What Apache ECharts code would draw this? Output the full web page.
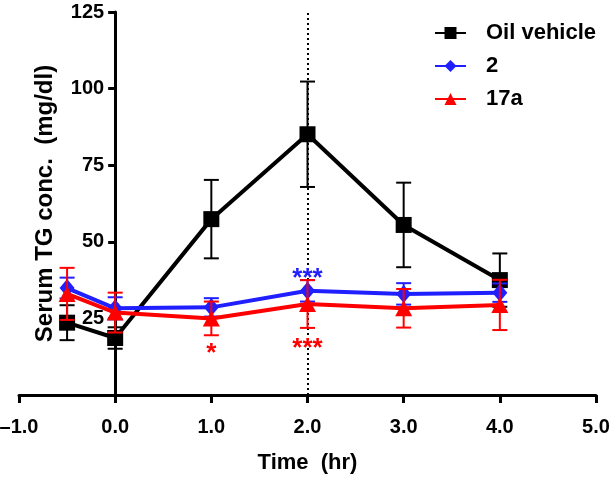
<!DOCTYPE html>
<html>
<head>
<meta charset="utf-8">
<script src="https://cdn.jsdelivr.net/npm/echarts@6/dist/echarts.min.js"></script>
<style>html,body{margin:0;padding:0;background:#fff}#c{width:612px;height:478px}</style>
</head>
<body>
<div id="c"></div>
<script>
// ---- data ----
const timeHr = [-0.5, 0, 1, 2, 3, 4];
const oilMean = [23.6, 18.6, 57.4, 85.1, 55.5, 37.5];
const oilErr = [5.7, 3.5, 12.8, 17.2, 13.8, 8.7];
const cpd2Mean = [34.9, 28.3, 28.6, 34.0, 33.0, 33.4];
const cpd2Err = [3.4, 3.6, 3.0, 3.5, 3.5, 3.0];
const cpd17aMean = [33.0, 26.9, 25.0, 29.7, 28.3, 29.4];
const cpd17aErr = [8.5, 6.5, 5.5, 7.8, 6.3, 8.2];
const seriesNames = ['Oil vehicle', '2', '17a'];
const xTicks = [-1, 0, 1, 2, 3, 4, 5];
const yTicks = [0, 25, 50, 75, 100, 125];
const markerTime = 2;
const cpd2Sig = [[2, 40.2, '***']];
const cpd17aSig = [[1, 15.7, '*'], [2, 17.4, '***']];

const FONT = '"Liberation Sans", Arial, sans-serif';
const BLACK = '#000000', BLUE = '#1f1fff', RED = '#ff0000';
const GRID_LEFT = 19, GRID_RIGHT = 16;
const PLOT_W = 612 - GRID_LEFT - GRID_RIGHT;
// y axis sits at time 0: shift from grid left by fraction of x range
const yAxisShift = PLOT_W * (0 - xTicks[0]) / (xTicks[xTicks.length - 1] - xTicks[0]);

function pts(mean) { return timeHr.map((t, i) => [t, mean[i]]); }
function errData(mean, err) { return timeHr.map((t, i) => [t, mean[i] - err[i], mean[i] + err[i]]); }
function errRender(color, lw) {
  return function (params, api) {
    const x = api.value(0), lo = api.value(1), hi = api.value(2);
    const a = api.coord([x, hi]), b = api.coord([x, lo]);
    const hw = 7.5;
    const st = { stroke: color, lineWidth: lw };
    return { type: 'group', children: [
      { type: 'line', shape: { x1: a[0], y1: a[1], x2: b[0], y2: b[1] }, style: st },
      { type: 'line', shape: { x1: a[0] - hw, y1: a[1], x2: a[0] + hw, y2: a[1] }, style: st },
      { type: 'line', shape: { x1: b[0] - hw, y1: b[1], x2: b[0] + hw, y2: b[1] }, style: st }
    ]};
  };
}
function sigSeries(d, color) {
  return {
    type: 'custom', z: 10, silent: true,
    data: d.map(v => [v[0], v[1], v[2]]),
    encode: { x: 0, y: 1 },
    renderItem: function (params, api) {
      const p = api.coord([api.value(0), api.value(1)]);
      return { type: 'text', x: p[0], y: p[1] + 7,
        style: { text: d[params.dataIndex][2], fill: color, font: 'bold 26px ' + FONT,
          align: 'center', verticalAlign: 'middle' } };
    }
  };
}

const chart = echarts.init(document.getElementById('c'), null, { renderer: 'canvas' });
chart.setOption({
  backgroundColor: '#ffffff',
  animation: false,
  grid: { left: GRID_LEFT, right: GRID_RIGHT, top: 12, bottom: 83, containLabel: false, outerBoundsMode: 'none' },
  legend: {
    data: seriesNames, orient: 'vertical', left: 434, top: 22, itemGap: 11, padding: 0,
    itemWidth: 31, itemHeight: 15, selectedMode: false,
    textStyle: { fontFamily: FONT, fontWeight: 'bold', fontSize: 22, color: '#000', padding: [0, 0, 0, 15] }
  },
  xAxis: {
    type: 'value', min: xTicks[0], max: xTicks[xTicks.length - 1], interval: 1,
    splitLine: { show: false },
    axisLine: { lineStyle: { color: '#000', width: 3 } },
    axisTick: { show: true, length: 8, lineStyle: { color: '#000', width: 3 } },
    axisLabel: { margin: 22, color: '#000', fontFamily: FONT, fontWeight: 'bold', fontSize: 20,
      formatter: v => (v < 0 ? '\u2013' : '') + Math.abs(v).toFixed(1) },
    name: 'Time  (hr)', nameLocation: 'middle', nameGap: 57,
    nameTextStyle: { fontFamily: FONT, fontWeight: 'bold', fontSize: 22, color: '#000' }
  },
  yAxis: {
    type: 'value', min: yTicks[0], max: yTicks[yTicks.length - 1], interval: 25,
    position: 'left', offset: -yAxisShift,
    splitLine: { show: false },
    axisLine: { onZero: false, lineStyle: { color: '#000', width: 3 } },
    axisTick: { show: true, length: 7, lineStyle: { color: '#000', width: 3 } },
    axisLabel: { margin: 11, color: '#000', fontFamily: FONT, fontWeight: 'bold', fontSize: 20,
      formatter: v => (v === 0 ? '' : String(v)) },
    name: 'Serum TG conc.  (mg/dl)', nameLocation: 'middle', nameGap: 58,
    nameTextStyle: { fontFamily: FONT, fontWeight: 'bold', fontSize: 24, color: '#000' }
  },
  series: [
    { type: 'custom', name: 'oilErr', renderItem: errRender(BLACK, 2), data: errData(oilMean, oilErr),
      encode: { x: 0, y: [1, 2] }, z: 2, silent: true,
      markLine: { silent: true, symbol: 'none', label: { show: false },
        lineStyle: { color: '#000', width: 2, type: [2, 3] }, data: [{ xAxis: markerTime }] } },
    { type: 'line', name: seriesNames[0], data: pts(oilMean), symbol: 'rect', symbolSize: 16,
      lineStyle: { color: BLACK, width: 4 }, itemStyle: { color: BLACK }, z: 3 },
    { type: 'custom', name: 'cpd2Err', renderItem: errRender(BLUE, 2), data: errData(cpd2Mean, cpd2Err),
      encode: { x: 0, y: [1, 2] }, z: 4, silent: true },
    { type: 'line', name: seriesNames[1], data: pts(cpd2Mean), symbol: 'diamond', symbolSize: [15, 18],
      lineStyle: { color: BLUE, width: 4 }, itemStyle: { color: BLUE }, z: 5 },
    { type: 'custom', name: 'cpd17aErr', renderItem: errRender(RED, 2), data: errData(cpd17aMean, cpd17aErr),
      encode: { x: 0, y: [1, 2] }, z: 6, silent: true },
    { type: 'line', name: seriesNames[2], data: pts(cpd17aMean), symbol: 'triangle', symbolSize: [17, 16],
      lineStyle: { color: RED, width: 4 }, itemStyle: { color: RED }, z: 7 },
    sigSeries(cpd2Sig, BLUE),
    sigSeries(cpd17aSig, RED)
  ]
});
</script>
</body>
</html>
